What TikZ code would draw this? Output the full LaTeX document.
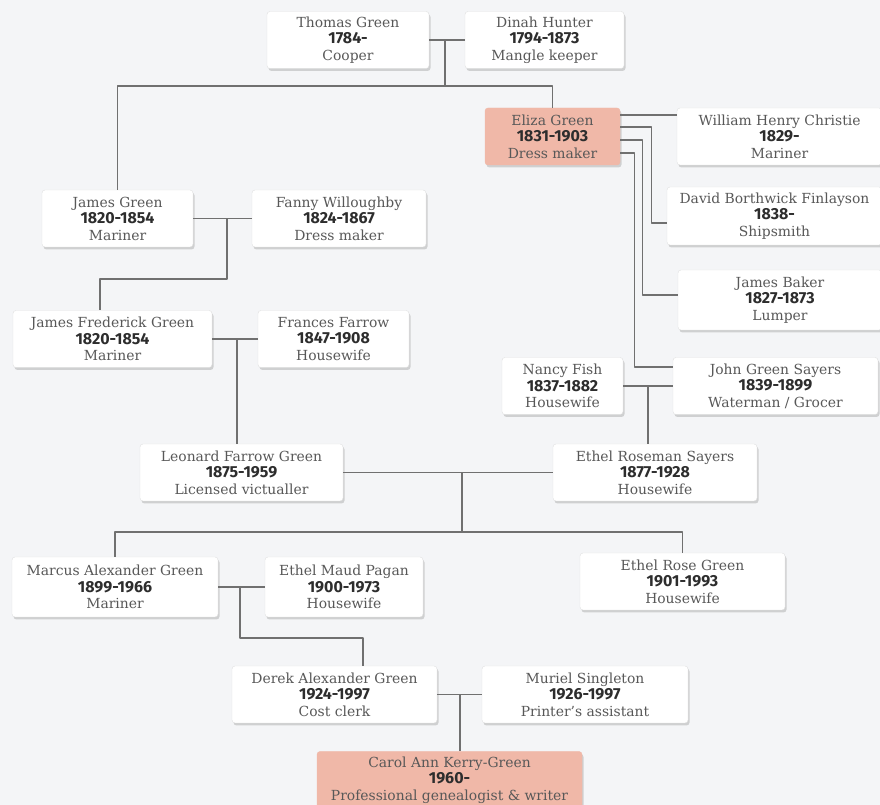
\documentclass[tikz,border=0pt]{standalone}
\usepackage{fontspec}
\setmainfont{DejaVu Serif}
\setsansfont{Fira Sans}
\usepackage{tikz}
\usetikzlibrary{shadows}
\definecolor{pagegrey}{RGB}{244,245,247}
\definecolor{linegrey}{RGB}{112,112,112}
\definecolor{namegrey}{RGB}{88,88,88}
\definecolor{yeargrey}{RGB}{45,45,45}
\definecolor{rosepink}{RGB}{240,184,168}
\newcommand{\entry}[3]{#1\\{\fontsize{16bp}{16.5bp}\selectfont\sffamily\bfseries\color{yeargrey}#2}\\#3}

\begin{document}
\begin{tikzpicture}[>=latex,line join=bevel,
  person/.style={draw=black!12,fill=white,rounded corners=3bp,align=center,
    minimum height=57bp,inner sep=2bp,text=namegrey,
    font=\fontsize{13.9bp}{16.5bp}\selectfont,
    drop shadow={shadow xshift=1.5bp,shadow yshift=-2.5bp,opacity=0.35,fill=black!45}},
  personpink/.style={person,fill=rosepink,draw=rosepink},
  link/.style={draw=linegrey,line width=1.3bp}]
%%
\useasboundingbox (0bp,0bp) rectangle (880bp,805bp);
\fill [pagegrey] (0bp,0bp) rectangle (880bp,805bp);
%
\node (node_thomas) at (348bp,765bp) [person,minimum width=162bp] {\entry{Thomas Green}{1784-}{Cooper}};
  \node (node_dinah) at (544.5bp,765bp) [person,minimum width=159bp] {\entry{Dinah Hunter}{1794-1873}{Mangle keeper}};
  \node (node_james) at (117.5bp,586.5bp) [person,minimum width=151bp] {\entry{James Green}{1820-1854}{Mariner}};
  \node (node_fanny) at (339bp,586.5bp) [person,minimum width=174bp] {\entry{Fanny Willoughby}{1824-1867}{Dress maker}};
  \node (node_eliza) at (552.5bp,668.5bp) [personpink,minimum width=135bp] {\entry{Eliza Green}{1831-1903}{Dress maker}};
  \node (node_william) at (779.5bp,668.5bp) [person,minimum width=205bp] {\entry{William Henry Christie}{1829-}{Mariner}};
  \node (node_david) at (774.5bp,589bp) [person,minimum width=215bp,minimum height=58bp] {\entry{David Borthwick Finlayson}{1838-}{Shipsmith}};
  \node (node_baker) at (780bp,505bp) [person,minimum width=204bp,minimum height=60bp] {\entry{James Baker}{1827-1873}{Lumper}};
  \node (node_john) at (775.5bp,419bp) [person,minimum width=205bp] {\entry{John Green Sayers}{1839-1899}{Waterman / Grocer}};
  \node (node_nancy) at (562.5bp,419bp) [person,minimum width=121bp] {\entry{Nancy Fish}{1837-1882}{Housewife}};
  \node (node_jfred) at (112.5bp,466bp) [person,minimum width=199bp] {\entry{James Frederick Green}{1820-1854}{Mariner}};
  \node (node_frances) at (333.5bp,466bp) [person,minimum width=151bp] {\entry{Frances Farrow}{1847-1908}{Housewife}};
  \node (node_leonard) at (241.5bp,332.5bp) [person,minimum width=203bp] {\entry{Leonard Farrow Green}{1875-1959}{Licensed victualler}};
  \node (node_ethelros) at (655bp,332.5bp) [person,minimum width=204bp] {\entry{Ethel Roseman Sayers}{1877-1928}{Housewife}};
  \node (node_marcus) at (115bp,218bp) [person,minimum width=206bp,minimum height=60bp] {\entry{Marcus Alexander Green}{1899-1966}{Mariner}};
  \node (node_ethmaud) at (344bp,218bp) [person,minimum width=158bp,minimum height=60bp] {\entry{Ethel Maud Pagan}{1900-1973}{Housewife}};
  \node (node_ethrose) at (682.5bp,223.5bp) [person,minimum width=205bp] {\entry{Ethel Rose Green}{1901-1993}{Housewife}};
  \node (node_derek) at (334.5bp,110.5bp) [person,minimum width=205bp] {\entry{Derek Alexander Green}{1924-1997}{Cost clerk}};
  \node (node_muriel) at (585bp,110.5bp) [person,minimum width=206bp] {\entry{Muriel Singleton}{1926-1997}{Printer's assistant}};
  \node (node_carol) at (449.5bp,25bp) [personpink,minimum width=265bp] {\entry{Carol Ann Kerry-Green}{1960-}{Professional genealogist \& writer}};
%
\coordinate (c_tg) at (445bp,765bp);
  \coordinate (c_tg_down) at (445bp,719bp);
  \coordinate (c_jf) at (227bp,586.5bp);
  \coordinate (c_jf_turn) at (100bp,526bp);
  \coordinate (c_lf) at (237bp,466bp);
  \coordinate (c_er) at (648bp,419bp);
  \coordinate (c_lg) at (462bp,332.5bp);
  \coordinate (c_lg_down) at (462bp,273bp);
  \coordinate (c_ma) at (240bp,218bp);
  \coordinate (c_ma_turn) at (363bp,167bp);
  \coordinate (c_dm) at (460bp,110.5bp);
%
\draw [link] (node_thomas) -- (node_dinah);
  \draw [link] (c_tg) -- (c_tg_down);
  \draw [link] (node_james) |- (c_tg_down) -| (node_eliza);
  \draw [link] (node_james) -- (node_fanny);
  \draw [link] (c_jf) |- (c_jf_turn) -- (c_jf_turn |- node_jfred.north);
  \draw [link] (node_jfred) -- (node_frances);
  \draw [link] (c_lf) -- (c_lf |- node_leonard.north);
  \draw [link] ([yshift=21.5bp]node_eliza.east) -- ([yshift=21.5bp]node_eliza.east -| node_william.west);
  \draw [link] ([yshift=9.5bp]node_eliza.east) -| ([xshift=-15bp,yshift=-7bp]node_david.west) -- ([yshift=-7bp]node_david.west);
  \draw [link] ([yshift=-3.5bp]node_eliza.east) -| ([xshift=-35bp,yshift=5bp]node_baker.west) -- ([yshift=5bp]node_baker.west);
  \draw [link] ([yshift=-16.5bp]node_eliza.east) -| ([xshift=-38bp,yshift=19bp]node_john.west) -- ([yshift=19bp]node_john.west);
  \draw [link] (node_nancy) -- (node_john);
  \draw [link] (c_er) -- (c_er |- node_ethelros.north);
  \draw [link] (node_leonard) -- (node_ethelros);
  \draw [link] (c_lg) -- (c_lg_down);
  \draw [link] (node_marcus) |- (c_lg_down) -| (node_ethrose);
  \draw [link] (node_marcus) -- (node_ethmaud);
  \draw [link] (c_ma) |- (c_ma_turn) -- (c_ma_turn |- node_derek.north);
  \draw [link] (node_derek) -- (node_muriel);
  \draw [link] (c_dm) -- (c_dm |- node_carol.north);
%
\end{tikzpicture}
\end{document}
